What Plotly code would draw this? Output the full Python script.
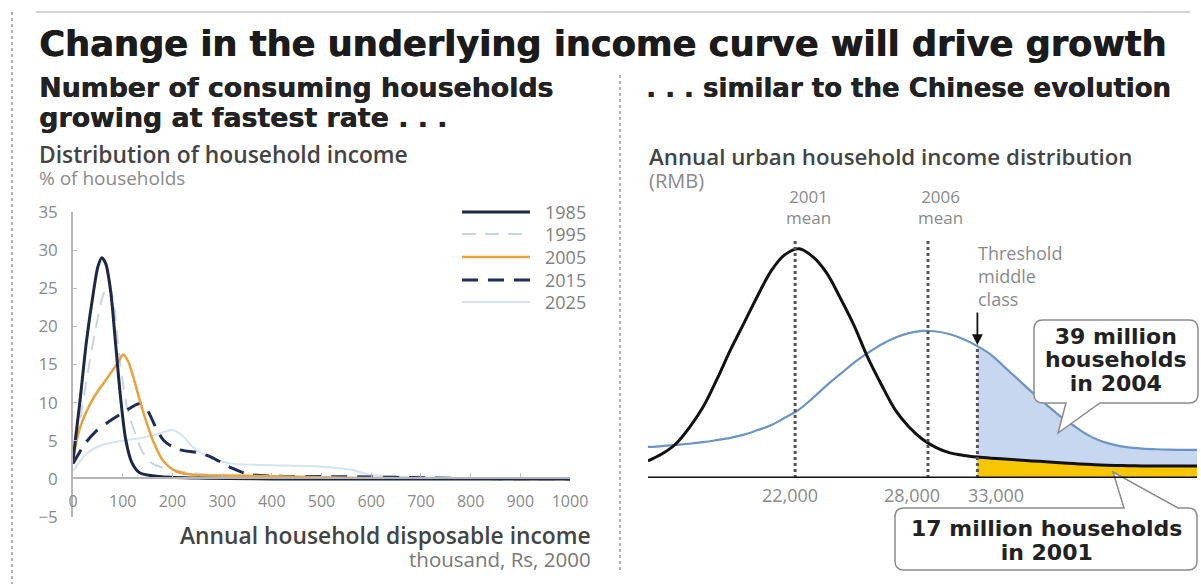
import plotly.graph_objects as go

W, H = 1201, 584


def px(x):
    return x / W


def py(y):
    return 1 - y / H


# ---------------- Left chart data (thousand Rs, % of households) ----------------
years = ["1985", "1995", "2005", "2015", "2025"]

inc_1985 = [0, 14, 27, 40, 50, 58, 66, 76, 86, 96, 106, 118, 134, 174, 250, 400, 1000]
pct_1985 = [2.5, 10.2, 18, 24, 27.8, 29, 28.2, 24.5, 17.5, 10.5, 5.2, 2.2, 0.8, 0.3, 0.1, 0, 0]

inc_1995 = [0, 15, 30, 45, 60, 72, 82, 95, 110, 125, 140, 160, 200, 250, 300, 400, 600, 1000]
pct_1995 = [2, 8, 14, 19.5, 24, 25.5, 23, 15, 9, 6, 3.5, 2, 1.2, 0.7, 0.4, 0.2, 0, 0]

inc_2005 = [0, 14, 41, 74, 91, 101, 111, 122, 134, 147, 161, 181, 207, 247, 300, 400, 500, 600, 1000]
pct_2005 = [2.5, 6.7, 10.6, 13.7, 15.3, 16.3, 15.4, 13.2, 10.4, 7.6, 5, 2.4, 1, 0.5, 0.45, 0.35, 0.2, 0.1, 0]

inc_2015 = [0, 24, 47, 74, 101, 134, 147, 167, 183, 210, 254, 280, 300, 320, 354, 414, 500, 600, 700, 800, 1000]
pct_2015 = [2, 4.6, 6.3, 7.6, 8.7, 9.9, 9.3, 6.7, 5, 3.9, 3.4, 2.8, 2.1, 1.4, 0.6, 0.35, 0.3, 0.25, 0.15, 0.05, 0]

inc_2025 = [0, 27, 61, 101, 141, 181, 201, 221, 241, 274, 320, 400, 500, 560, 600, 700, 800, 1000]
pct_2025 = [1, 3.3, 4.5, 5, 5.4, 6.1, 6.4, 5.6, 4.2, 2.8, 2, 1.8, 1.6, 1.2, 0.5, 0.2, 0.1, 0]

left_x = [inc_1985, inc_1995, inc_2005, inc_2015, inc_2025]
left_y = [pct_1985, pct_1995, pct_2005, pct_2015, pct_2025]

x_ticks = [0, 100, 200, 300, 400, 500, 600, 700, 800, 900, 1000]
y_ticks = [-5, 0, 5, 10, 15, 20, 25, 30, 35]

# ---------------- Right chart data (schematic income scale 0-100) ----------------
rmb_pos = [0, 2.5, 5, 7.5, 10, 12.5, 15, 17.5, 20, 22.5, 25, 27.5, 30, 32.5, 35, 37.5,
           40, 42.5, 45, 47.5, 50, 52.5, 55, 57.5, 60, 62.5, 65, 67.5, 70, 72.5, 75,
           77.5, 80, 82.5, 85, 87.5, 90, 92.5, 95, 97.5, 100]
dist_2001 = [7.5, 10.5, 14.8, 22, 31, 43, 56, 68, 80, 91, 98, 100.5, 97, 90, 79, 67,
             53, 41, 30, 22.5, 17, 13.3, 11, 9.9, 9.2, 8.7, 8.3, 7.9, 7.5, 7.1, 6.7,
             6.3, 6, 5.7, 5.5, 5.4, 5.3, 5.3, 5.3, 5.3, 5.3]
dist_2006 = [13.6, 14, 14.5, 15, 15.7, 16.6, 17.6, 19, 21, 23.2, 26.5, 30, 35, 40.5, 45.5, 50.5,
             54.7, 58.5, 61.5, 63.5, 64.5, 64.2, 63, 60.8, 57.8, 54, 48.5, 43, 37.5, 32.3, 27.2,
             23, 19, 16.2, 14.5, 13.4, 12.9, 12.6, 12.4, 12.3, 12.3]

mean_2001_pos = 26.8
mean_2006_pos = 51
threshold_pos = 60
income_labels = ["22,000", "28,000", "33,000"]
mean_labels = ["2001<br>mean", "2006<br>mean"]
threshold_label = "Threshold<br>middle<br>class"
callout_2004 = "39 million<br>households<br>in 2004"
callout_2001 = "17 million households<br>in 2001"

# ---------------- styles ----------------
styles = {
    "1985": dict(color="#1d2746", width=3, dash="solid"),
    "1995": dict(color="#c9d5de", width=2, dash="14px,9px"),
    "2005": dict(color="#e9a23b", width=2.5, dash="solid"),
    "2015": dict(color="#1f2c55", width=3, dash="16px,10px"),
    "2025": dict(color="#d3e4f1", width=2, dash="solid"),
}

fig = go.Figure()

order = [4, 1, 3, 2, 0]
for i in order:
    yr = years[i]
    fig.add_trace(go.Scatter(
        x=left_x[i], y=left_y[i], mode="lines", name=yr,
        line=dict(shape="spline", smoothing=0.8, **styles[yr]),
        xaxis="x", yaxis="y", showlegend=False, hoverinfo="x+y+name"))

idx = [k for k, v in enumerate(rmb_pos) if v >= threshold_pos]
fx = [rmb_pos[k] for k in idx]
f01 = [dist_2001[k] for k in idx]
f06 = [dist_2006[k] for k in idx]

fig.add_trace(go.Scatter(x=fx, y=f01, mode="lines", line=dict(width=0, shape="spline"),
                         fill="tozeroy", fillcolor="#f7c600", xaxis="x2", yaxis="y2",
                         showlegend=False, hoverinfo="skip"))
fig.add_trace(go.Scatter(x=fx, y=f01, mode="lines", line=dict(width=0, shape="spline"),
                         xaxis="x2", yaxis="y2", showlegend=False, hoverinfo="skip"))
fig.add_trace(go.Scatter(x=fx, y=f06, mode="lines", line=dict(width=0, shape="spline"),
                         fill="tonexty", fillcolor="#c7d7ef", xaxis="x2", yaxis="y2",
                         showlegend=False, hoverinfo="skip"))

fig.add_trace(go.Scatter(x=rmb_pos, y=dist_2006, mode="lines", name="2006",
                         line=dict(color="#6b93c5", width=2.2, shape="spline"),
                         xaxis="x2", yaxis="y2", showlegend=False))
fig.add_trace(go.Scatter(x=rmb_pos, y=dist_2001, mode="lines", name="2001",
                         line=dict(color="#111111", width=3, shape="spline"),
                         xaxis="x2", yaxis="y2", showlegend=False))

shapes = []
annotations = []

shapes.append(dict(type="line", xref="paper", yref="paper", x0=px(36), x1=px(1190),
                   y0=py(12), y1=py(12), line=dict(color="#c4c4c4", width=1.5)))
shapes.append(dict(type="line", xref="paper", yref="paper", x0=px(12), x1=px(12),
                   y0=py(12), y1=py(584), line=dict(color="#999999", width=1.5, dash="dot")))
shapes.append(dict(type="line", xref="paper", yref="paper", x0=px(620), x1=px(620),
                   y0=py(75), y1=py(572), line=dict(color="#999999", width=1.5, dash="dot")))

thr_top = dist_2006[rmb_pos.index(threshold_pos)]
for pos, top in [(mean_2001_pos, 104.5), (mean_2006_pos, 104.5), (threshold_pos, thr_top)]:
    shapes.append(dict(type="line", xref="x2", yref="y2", x0=pos, x1=pos, y0=0, y1=top,
                       line=dict(color="#555555", width=3, dash="dot")))


def rounded_box_path(x0, y0, x1, y1, r, tail_side, tail):
    seg = [f"M {px(x0 + r):.5f},{py(y0):.5f}"]
    if tail_side == "top":
        for tx, ty in tail:
            seg.append(f"L {px(tx):.5f},{py(ty):.5f}")
    seg.append(f"L {px(x1 - r):.5f},{py(y0):.5f}")
    seg.append(f"Q {px(x1):.5f},{py(y0):.5f} {px(x1):.5f},{py(y0 + r):.5f}")
    seg.append(f"L {px(x1):.5f},{py(y1 - r):.5f}")
    seg.append(f"Q {px(x1):.5f},{py(y1):.5f} {px(x1 - r):.5f},{py(y1):.5f}")
    if tail_side == "bottom":
        for tx, ty in tail:
            seg.append(f"L {px(tx):.5f},{py(ty):.5f}")
    seg.append(f"L {px(x0 + r):.5f},{py(y1):.5f}")
    seg.append(f"Q {px(x0):.5f},{py(y1):.5f} {px(x0):.5f},{py(y1 - r):.5f}")
    seg.append(f"L {px(x0):.5f},{py(y0 + r):.5f}")
    seg.append(f"Q {px(x0):.5f},{py(y0):.5f} {px(x0 + r):.5f},{py(y0):.5f}")
    seg.append("Z")
    return " ".join(seg)


shapes.append(dict(type="path", xref="paper", yref="paper",
                   path=rounded_box_path(1034, 320, 1198, 403, 9, "bottom",
                                         [(1100, 403), (1058, 433), (1066, 403)]),
                   fillcolor="white", line=dict(color="#8a8a8a", width=1.5)))
shapes.append(dict(type="path", xref="paper", yref="paper",
                   path=rounded_box_path(895, 508, 1197, 570, 9, "top",
                                         [(1124, 508), (1113, 472), (1178, 508)]),
                   fillcolor="white", line=dict(color="#8a8a8a", width=1.5)))

shapes.append(dict(type="line", xref="x2", yref="y2", x0=0, x1=100, y0=0, y1=0,
                   line=dict(color="#111111", width=3)))

leg_y = [212, 234, 257, 280, 302]
for yr, yy in zip(years, leg_y):
    st = styles[yr]
    shapes.append(dict(type="line", xref="paper", yref="paper", x0=px(462), x1=px(530),
                       y0=py(yy), y1=py(yy),
                       line=dict(color=st["color"], width=st["width"], dash=st["dash"])))
    annotations.append(dict(xref="paper", yref="paper", x=px(543), y=py(yy), text=yr,
                            showarrow=False, xanchor="left", yanchor="middle",
                            font=dict(family="Open Sans", size=18, color="#808080")))


def txt(x, y, s, size, color, family="Open Sans", weight=None, xanchor="left",
        align="left", shadow=None):
    f = dict(family=family, size=size, color=color)
    if weight:
        f["weight"] = weight
    if shadow:
        f["shadow"] = shadow
    annotations.append(dict(xref="paper", yref="paper", x=px(x), y=py(y), text=s,
                            showarrow=False, xanchor=xanchor, yanchor="middle", font=f,
                            align=align, borderpad=0))


def span(s, size, color, weight=400):
    return f"<span style='font-size:{size}px;color:{color};font-weight:{weight}'>{s}</span>"


BOLD = "DejaVu Sans"
HEAVY = "0.8px 0px 0px #1b1b1b"
txt(38, 43, "<b>Change in the underlying income curve will drive growth</b>", 35.2, "#1b1b1b",
    BOLD, shadow=HEAVY)
txt(38, 103, span("Number of consuming households<br>growing at fastest rate . . .", 26.8, "#222222", 700),
    23, "#222222", BOLD, shadow="0.5px 0px 0px #222222")
txt(645, 88, "<b>. . . similar to the Chinese evolution</b>", 26, "#222222", BOLD,
    shadow="0.5px 0px 0px #222222")

txt(38, 165, span("Distribution of household income", 22.8, "#444444", 600) + "<br>" +
    span("% of households", 19, "#8a8a8a"), 17, "#444444")
txt(648, 167, span("Annual urban household income distribution", 22.3, "#444444", 600) + "<br>" +
    span("(RMB)", 20, "#8a8a8a"), 17.5, "#444444")
txt(592, 546, span("Annual household disposable income", 22.8, "#444444", 600) + "<br>" +
    span("thousand, Rs, 2000", 20.5, "#777777"), 17.7, "#444444", xanchor="right", align="right")

for s, cx in zip(mean_labels, [808, 940]):
    txt(cx, 207, span(s, 17, "#8a8a8a"), 16, "#8a8a8a", xanchor="center", align="center")
txt(977, 276, span(threshold_label, 18, "#8a8a8a"), 17.7, "#8a8a8a")
for s, cx in zip(income_labels, [790, 912, 996]):
    txt(cx, 495, s, 18, "#8a8a8a", xanchor="center")

txt(1116, 360, span(callout_2004, 22, "#222222", 700), 18, "#222222", BOLD,
    xanchor="center", align="center")
txt(1046, 540, span(callout_2001, 22, "#222222", 700), 18.5, "#222222", BOLD,
    xanchor="center", align="center")

annotations.append(dict(xref="x2", yref="y2", x=threshold_pos, y=thr_top + 0.5, text="",
                        showarrow=True, arrowhead=2, arrowsize=1.2, arrowwidth=1.8,
                        arrowcolor="#111111", ax=0, ay=-34))

fig.update_layout(
    template="none",
    width=W, height=H, autosize=False,
    margin=dict(l=0, r=0, t=0, b=0, pad=0, autoexpand=False),
    paper_bgcolor="white", plot_bgcolor="rgba(0,0,0,0)",
    showlegend=False,
    xaxis=dict(domain=[px(73), px(570)], range=[0, 1000], anchor="free", position=py(478),
               automargin=False,
               showline=True, linecolor="#b5b5b5", linewidth=1.5, showgrid=False, zeroline=False,
               tickvals=x_ticks, ticks="inside", ticklen=4, tickcolor="#c0c0c0",
               tickfont=dict(family="Open Sans", size=16, color="#8a8a8a"),
               ticklabelstandoff=9),
    yaxis=dict(domain=[py(517), py(212)], range=[-5, 35], anchor="x", automargin=False,
               showline=True, linecolor="#b5b5b5", linewidth=1.5, showgrid=False, zeroline=False,
               tickvals=y_ticks, ticks="inside", ticklen=4, tickcolor="#c0c0c0",
               tickfont=dict(family="Open Sans", size=17, color="#8a8a8a"),
               ticklabelstandoff=10),
    xaxis2=dict(domain=[px(648), px(1197)], range=[0, 100], anchor="y2", visible=False,
                automargin=False),
    yaxis2=dict(domain=[py(478), py(227)], range=[0, 110], anchor="x2", visible=False,
                automargin=False),
    shapes=shapes,
    annotations=annotations,
)

fig.write_html(
    "out.html",
    config={"displayModeBar": False},
    post_script="document.body.style.margin='0';document.documentElement.style.overflow='hidden';",
)
